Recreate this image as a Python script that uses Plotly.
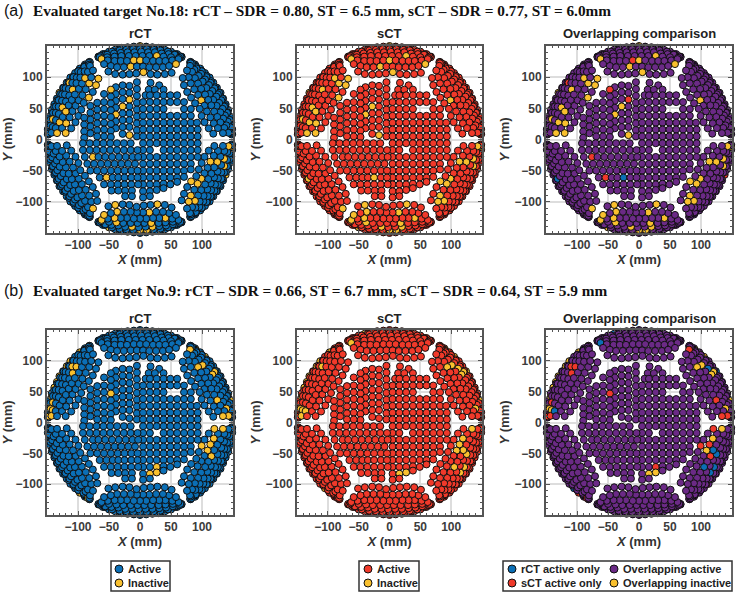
import numpy as np
import plotly.graph_objects as go

W, H = 738, 594
BLUE, RED, YEL, PUR = "#0b6fb6", "#f0392a", "#f9c02e", "#6b2a86"

# inner disc, mm
UL_COL_X = [-5, -17, -28, -39, -47, -58, -69, -80, -90]
UL_COL_Y = [[92, 81, 70, 59, 48, 37, 26, 15, 5],
            [86, 75, 64, 53, 42, 31, 20, 7],
            [87, 76, 65, 53, 42, 31, 20, 9],
            [84, 73, 62, 51, 40, 29, 18],
            [80, 69, 58, 47, 36, 25, 14, 4],
            [73, 60, 49, 38, 27, 16, 5],
            [59, 48, 37, 26, 15, 5],
            [54, 43, 32, 21, 10],
            [35, 24, 13, 3]]
UR_ROW_Y = [91, 87, 80, 71, 60, 49, 38, 27, 16, 5]
UR_ROW_X = [[17], [31], [14, 24, 38],
            [9, 16, 27, 38, 49, 60],
            [5, 16, 27, 38, 49, 60, 71],
            [5, 16, 27, 38, 71, 82],
            [5, 16, 27, 38, 49, 60, 71, 82],
            [5, 16, 27, 38, 49, 60, 71, 82, 92],
            [5, 16, 27, 38, 49, 60, 71, 82, 93],
            [5, 16, 27, 38, 49, 60, 71, 82, 93]]
LR_COL_X = [5, 16, 27, 38, 49, 60, 71, 82, 93]
LR_COL_Y = [[-6, -17, -28, -39, -50, -61, -72, -83, -93],
            [-6, -17, -28, -39, -50, -61, -72, -83, -91],
            [-6, -28, -39, -50, -61, -72, -81],
            [-6, -17, -28, -39, -50, -61, -71, -78],
            [-6, -17, -28, -39, -50, -61, -72],
            [-6, -17, -28, -39, -50, -61, -68],
            [-6, -17, -28, -39, -50, -60],
            [-6, -17, -28, -39, -48],
            [-6, -17, -28]]
LL_ROW_Y = [-6, -17, -28, -39, -50, -61, -72, -82, -91]
LL_ROW_X = [[-92, -81, -70, -59, -48, -37, -26, -15],
            [-92, -81, -70, -59, -48, -37, -26, -15, -4],
            [-89, -76, -67, -56, -45, -34, -23, -12, -3],
            [-85, -74, -63, -52, -41, -30, -19, -8],
            [-80, -69, -58, -47, -36, -25, -14, -4],
            [-65, -54, -44, -35, -25, -14, -4],
            [-58, -47, -36, -25, -14, -3],
            [-46, -35, -24, -13],
            [-24, -13]]

# outer sectors: one sector's rows in local mm (u along, v towards the rim), repeated at each centre angle
SECTOR_CENTRES = [90, 30, -30, -90, -150, 150]
ROW_U = [
    [-51, -40, -28, -17, -6, 5.5, 17, 28, 40, 51],
    [-58, -47, -37, -26, -15, -5, 5, 15, 26, 37, 47, 58],
    [-62, -52, -41, -31, -21, -10, 0, 10, 21, 31, 41, 52, 62],
    [-65, -53, -41, -30, -18, -7, 4, 15, 27, 38, 50, 63],
    [-64, -53, -42, -31, -20, -9, 2, 13, 24, 35, 46, 56, 65],
    [-67, -56, -45, -33, -22, -11, 0, 11, 22, 33, 45, 56, 67],
    [-67, -57, -46, -35, -24, -12, -1, 10, 22, 33, 46, 57, 67],
    [-60, -50, -40, -30, -20, -10, 0, 10, 20, 30, 40, 50, 60],
]
ROW_V = [
    [109, 105, 104, 105, 106, 108, 105, 104, 105, 107],
    [121, 118, 116, 116, 117, 117, 117, 116, 116, 116, 118, 121],
    [129, 127, 126, 126, 126, 127, 127, 127, 126, 126, 126, 127, 129],
    [132, 132, 133, 134, 134, 134, 134, 134, 134, 133, 132, 131],
    [134, 136, 138, 139, 140, 140, 141, 140, 140, 138, 137, 136, 133],
    [132, 136, 141, 143, 144, 145, 145, 145, 144, 143, 141, 136, 132],
    [133, 137, 141, 144, 146, 147, 148, 148, 146, 144, 141, 137, 133],
    [137, 141, 144, 147, 148, 149, 150, 149, 148, 147, 144, 141, 137],
]

# target (a): inactive in both / active only in one plan, positions in mm
A_BOTH = [(5,108),(4,128),(-13,115),(30,133),(60,124),(-62,129),(-62,90),(-70,83),(-78,85),(-84,67),
          (-84,98),(-107,85),(-129,80),(-122,55),(-120,48),(-115,22),(-125,29),(-141,32),(-124,11),
          (-138,8),(103,64),(84,-68),(93,-68),(101,-68),(78,-86),(83,-98),(92,-100),(111,-34),(127,-32),
          (132,-33),(135,-41),(140,-11),(149,-11),(30,-104),(12,-114),(-32,-118),(-36,-109),(-55,-115),
          (-46,-128),(-62,-125),(19,-130),(19,-141),(38,-124),(-12,-141),(-3,-146),(-40,-136),(-54,-142),
          (8,-145),(-19,-146),(27,-149),(-80,-113),(-19,6),(-28,53),(-39,40),(0,149),(142,-15)]
A_SCT_ONLY = [(-46,80),(-16,64),(-76,-27),(-54,-59),(-5,124),(-115,87),(139,-57)]
A_RCT_ONLY = [(-25,-62),(-128,-66),(33,-148)]
# target (b)
B_BOTH = [(17,-83),(27,-87),(115,82),(96,94),(104,90),(121,79),(91,119),(99,111),(104,106),(147,39),
          (139,25),(115,-25),(121,-21),(132,-9),(112,-48),(-147,22),(-143,19),(-131,79),(-136,71),
          (-141,57),(-145,44),(-118,91),(-112,97),(-96,115),(-85,126),(110,-37)]
B_SCT_ONLY = [(-48,52),(28,-76),(103,-36),(112,-35),(126,34),(143,18),(132,7),(142,9),(124,-11),(114,-58),
              (-100,94),(-105,84),(-107,91),(-140,9),(-147,9),(-142,30),(-88,-128),(-98,-118),(107,-102),(81,120)]
B_RCT_ONLY = [(112,-80),(121,-41),(120,-51),(109,-69),(122,-69),(110,90),(127,82),(-136,18),(-109,95),
              (-86,115),(-40,144),(-62,130),(-144,14),(-107,-110)]

TICKS = [-100, -50, 0, 50, 100]
PANEL_TITLES = ["rCT", "sCT", "Overlapping comparison"]
HEAD_A = "Evaluated target No.18: rCT – SDR = 0.80, ST = 6.5 mm, sCT – SDR = 0.77, ST = 6.0mm"
HEAD_B = "Evaluated target No.9: rCT – SDR = 0.66, ST = 6.7 mm, sCT – SDR = 0.64, ST = 5.9 mm"
COL_PX = [(47, 233), (297, 482), (546, 732)]
ROW_PX = [(46, 233), (330, 515)]
LEGEND_BOXES = [
    ((111, 170), [(119, 569, BLUE, "Active"), (119, 583, YEL, "Inactive")]),
    ((359, 419), [(368, 569, RED, "Active"), (368, 583, YEL, "Inactive")]),
    ((503, 732), [(512, 569, BLUE, "rCT active only"), (614, 569, PUR, "Overlapping active"),
                  (512, 583, RED, "sCT active only"), (614, 583, YEL, "Overlapping inactive")]),
]

# assemble collimator table: rim rows first so that inner rows lie on top
xs, ys = [], []
for us, vs in zip(ROW_U[::-1], ROW_V[::-1]):
    for c in SECTOR_CENTRES:
        t = np.radians(c - 90)
        for u, v in zip(us, vs):
            xs.append(u * np.cos(t) - v * np.sin(t))
            ys.append(u * np.sin(t) + v * np.cos(t))
for cx, cy in zip(UL_COL_X, UL_COL_Y):
    for y in cy:
        xs.append(cx); ys.append(y)
for ry, rx in zip(UR_ROW_Y, UR_ROW_X):
    for x in rx:
        xs.append(x); ys.append(ry)
for cx, cy in zip(LR_COL_X, LR_COL_Y):
    for y in cy:
        xs.append(cx); ys.append(y)
for ry, rx in zip(LL_ROW_Y, LL_ROW_X):
    for x in rx:
        xs.append(x); ys.append(ry)
xs, ys = np.array(xs, float), np.array(ys, float)


def snap(points):
    return {int(np.argmin((xs - p[0]) ** 2 + (ys - p[1]) ** 2)) for p in points}


def colours(base, idx):
    c = [base] * len(xs)
    for i in idx:
        c[i] = YEL
    return c


def overlap_colours(both, r_only, s_only):
    c = [PUR] * len(xs)
    for i in both:
        c[i] = YEL
    for i in r_only:
        c[i] = BLUE
    for i in s_only:
        c[i] = RED
    return c


fig = go.Figure()
layout = {}
LINE = "#555555"
targets = [(A_BOTH, A_RCT_ONLY, A_SCT_ONLY), (B_BOTH, B_RCT_ONLY, B_SCT_ONLY)]
n = 0
for row, (both, ronly, sonly) in enumerate(targets):
    b, r_o, s_o = snap(both), snap(ronly), snap(sonly)
    cols = [colours(BLUE, b | s_o), colours(RED, b | r_o), overlap_colours(b, r_o, s_o)]
    for col in range(3):
        n += 1
        sfx = "" if n == 1 else str(n)
        fig.add_trace(go.Scatter(
            x=xs, y=ys, mode="markers", cliponaxis=False, showlegend=False, hoverinfo="skip",
            marker=dict(size=7, color=cols[col], line=dict(color="#101010", width=1)),
            xaxis="x" + sfx, yaxis="y" + sfx))
        common = dict(range=[-150, 150], tickmode="array", tickvals=TICKS, ticks="inside", ticklen=4,
                      tickwidth=1.2, tickcolor=LINE, mirror="ticks", showline=True, linecolor=LINE, linewidth=2,
                      showgrid=True, gridcolor="#dddddd", gridwidth=1.5, zeroline=False,
                      tickfont=dict(family="Liberation Sans", size=12, color="#3c3c3c", weight="bold"),
                      minor=dict(ticks="inside", ticklen=2, tickwidth=1, tickcolor=LINE, dtick=10, tick0=0, showgrid=False),
                      automargin=False)
        x0, x1 = COL_PX[col]
        y0, y1 = ROW_PX[row]
        layout["xaxis" + sfx] = dict(common, domain=[x0 / W, x1 / W], anchor="y" + sfx,
                                     title=dict(text="<b><i>X</i> (mm)</b>", standoff=2,
                                                font=dict(family="Liberation Sans", size=13, color="#333333")))
        layout["yaxis" + sfx] = dict(common, domain=[1 - y1 / H, 1 - y0 / H], anchor="x" + sfx,
                                     title=dict(text="<b><i>Y</i> (mm)</b>", standoff=2,
                                                font=dict(family="Liberation Sans", size=13, color="#333333")))

ann = []
shapes = []
for col, t in enumerate(PANEL_TITLES):
    for row in range(2):
        ann.append(dict(text="<b>" + t + "</b>", x=sum(COL_PX[col]) / 2 / W, y=1 - (ROW_PX[row][0] - 12) / H,
                        xref="paper", yref="paper", showarrow=False, xanchor="center", yanchor="middle",
                        font=dict(family="Liberation Sans", size=13, color="#222222")))
for lab, text, yy in [("(a)", HEAD_A, 10), ("(b)", HEAD_B, 290)]:
    ann.append(dict(text=lab, x=2 / W, y=1 - yy / H, xref="paper", yref="paper", showarrow=False,
                    xanchor="left", yanchor="middle", font=dict(family="Liberation Sans", size=16, color="#111111")))
    ann.append(dict(text="<b>" + text + "</b>", x=31 / W, y=1 - yy / H, xref="paper", yref="paper", showarrow=False,
                    xanchor="left", yanchor="middle", font=dict(family="Liberation Serif", size=15.3, color="#111111")))

for (bx0, bx1), items in LEGEND_BOXES:
    shapes.append(dict(type="rect", xref="paper", yref="paper", x0=bx0 / W, x1=bx1 / W, y0=1 - 591 / H, y1=1 - 561 / H,
                       line=dict(color="#333333", width=1.5), fillcolor="white"))
    for mx, my, colr, label in items:
        shapes.append(dict(type="circle", xref="paper", yref="paper", x0=(mx - 4) / W, x1=(mx + 4) / W,
                           y0=1 - (my + 4) / H, y1=1 - (my - 4) / H, line=dict(color="#101010", width=1), fillcolor=colr))
        ann.append(dict(text="<b>" + label + "</b>", x=(mx + 7) / W, y=1 - my / H, xref="paper", yref="paper",
                        showarrow=False, xanchor="left", yanchor="middle",
                        font=dict(family="Liberation Sans", size=11, color="#222222")))

fig.update_layout(
    width=W, height=H, margin=dict(l=0, r=0, t=0, b=0, autoexpand=False), paper_bgcolor="white", plot_bgcolor="white",
    annotations=ann, shapes=shapes, showlegend=False, **layout)
fig.write_html("out.html", config=dict(displayModeBar=False), post_script="document.body.style.margin='0';")
